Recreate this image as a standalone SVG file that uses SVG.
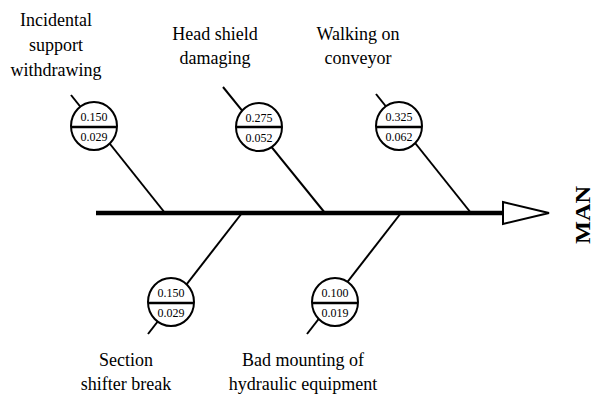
<svg xmlns="http://www.w3.org/2000/svg" width="594" height="397" viewBox="0 0 594 397" font-family="Liberation Serif, Times New Roman, serif">
<style>
text{font-family:Liberation Serif, Times New Roman, serif}
.lbl{font-size:18px;fill:#000;text-anchor:middle}
.num{font-size:12px;fill:#000;text-anchor:middle}
.bone{stroke:#000;stroke-width:2;fill:none}
.c{fill:#fff;stroke:#000;stroke-width:2}
.div{stroke:#000;stroke-width:2.5}
</style>
<rect width="594" height="397" fill="#fff"/>
<g id="connectors">
<line x1="96" y1="213" x2="505" y2="213" stroke="#000" stroke-width="4.5"/>
<polygon points="503,202 549,213 503,224" fill="#fff" stroke="#000" stroke-width="2"/>
<line class="bone" x1="71" y1="95" x2="165" y2="213"/>
<line class="bone" x1="223" y1="87" x2="325" y2="213"/>
<line class="bone" x1="376" y1="94" x2="471" y2="213"/>
<line class="bone" x1="242" y1="213" x2="148" y2="334"/>
<line class="bone" x1="401" y1="213" x2="307" y2="334"/>
</g>
<g id="n1">
<ellipse class="c" cx="94" cy="126" rx="23" ry="24"/>
<line class="div" x1="71" y1="127" x2="117" y2="127"/>
<text class="num" x="94" y="121">0.150</text>
<text class="num" x="94" y="141">0.029</text>
<text class="lbl" x="56" y="26">Incidental</text>
<text class="lbl" x="56" y="51">support</text>
<text class="lbl" x="56" y="76">withdrawing</text>
</g>
<g id="n2">
<ellipse class="c" cx="259" cy="127" rx="23" ry="24"/>
<line class="div" x1="236" y1="127" x2="282" y2="127"/>
<text class="num" x="259" y="122">0.275</text>
<text class="num" x="259" y="142">0.052</text>
<text class="lbl" x="215" y="40">Head shield</text>
<text class="lbl" x="215" y="64">damaging</text>
</g>
<g id="n3">
<ellipse class="c" cx="399" cy="126" rx="23" ry="24"/>
<line class="div" x1="376" y1="127" x2="422" y2="127"/>
<text class="num" x="399" y="121">0.325</text>
<text class="num" x="399" y="141">0.062</text>
<text class="lbl" x="358" y="40">Walking on</text>
<text class="lbl" x="358" y="64">conveyor</text>
</g>
<g id="n4">
<ellipse class="c" cx="171" cy="302" rx="23" ry="24"/>
<line class="div" x1="148" y1="303" x2="194" y2="303"/>
<text class="num" x="171" y="297">0.150</text>
<text class="num" x="171" y="317">0.029</text>
<text class="lbl" x="126" y="366">Section</text>
<text class="lbl" x="126" y="390">shifter break</text>
</g>
<g id="n5">
<ellipse class="c" cx="335" cy="302" rx="23" ry="24"/>
<line class="div" x1="312" y1="303" x2="358" y2="303"/>
<text class="num" x="335" y="297">0.100</text>
<text class="num" x="335" y="317">0.019</text>
<text class="lbl" x="303" y="366">Bad mounting of</text>
<text class="lbl" x="303" y="390">hydraulic equipment</text>
</g>
<g id="man">
<text transform="translate(590,215) rotate(-90)" font-weight="bold" font-size="20" text-anchor="middle" textLength="58" lengthAdjust="spacingAndGlyphs">MAN</text>
</g>
</svg>
